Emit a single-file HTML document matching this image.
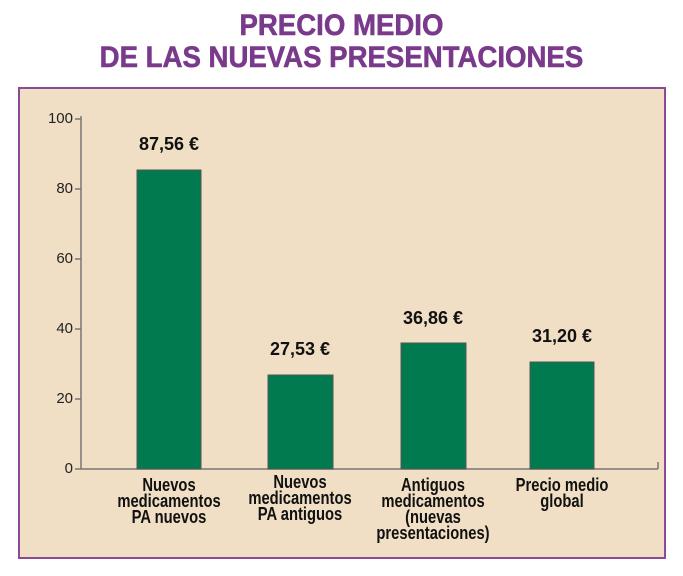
<!DOCTYPE html>
<html><head><meta charset="utf-8"><style>
body{margin:0;width:683px;height:576px;background:#fff;position:relative;font-family:"Liberation Sans",sans-serif;overflow:hidden}
.t{position:absolute;left:0;width:683px;text-align:center;color:#7a3a8c;font-weight:bold;font-size:30px;line-height:32px;transform:scaleX(0.92);transform-origin:341px 0;-webkit-text-stroke:0.6px #7a3a8c}
.panel{position:absolute;left:18px;top:87px;width:644px;height:468px;background:#f0dfc4;border:2px solid #8a4a96}
.ab{position:absolute}
.lab{position:absolute;width:160px;text-align:center;font-weight:bold;font-size:18px;line-height:16px;color:#111;transform:scaleX(0.82)}
.val{position:absolute;width:120px;text-align:center;font-weight:bold;font-size:18px;color:#111}
.tk{position:absolute;width:40px;text-align:right;font-size:15px;color:#222}
</style></head><body>
<div class="t" style="top:10px">PRECIO MEDIO<br>DE LAS NUEVAS PRESENTACIONES</div>
<div class="panel"></div>
<svg class="ab" style="left:0;top:0" width="683" height="576">
<g stroke="#777" stroke-width="1.5" fill="none">
<line x1="81" y1="116" x2="81" y2="469"/>
<line x1="81" y1="469" x2="658" y2="469"/>
<line x1="658" y1="469" x2="658" y2="462"/>
<line x1="75" y1="119" x2="81" y2="119"/>
<line x1="75" y1="189" x2="81" y2="189"/>
<line x1="75" y1="259" x2="81" y2="259"/>
<line x1="75" y1="329" x2="81" y2="329"/>
<line x1="75" y1="399" x2="81" y2="399"/>
<line x1="75" y1="469" x2="81" y2="469"/>
</g>
<g fill="#007a4e" stroke="#555" stroke-width="1">
<rect x="137" y="170" width="64" height="299"/>
<rect x="268" y="375" width="65" height="94"/>
<rect x="401" y="343" width="65" height="126"/>
<rect x="530" y="362" width="64" height="107"/>
</g>
</svg>
<div class="tk" style="left:33px;top:110px">100</div>
<div class="tk" style="left:33px;top:180px">80</div>
<div class="tk" style="left:33px;top:250px">60</div>
<div class="tk" style="left:33px;top:320px">40</div>
<div class="tk" style="left:33px;top:390px">20</div>
<div class="tk" style="left:33px;top:460px">0</div>
<div class="val" style="left:109px;top:134px">87,56 €</div>
<div class="val" style="left:240px;top:339px">27,53 €</div>
<div class="val" style="left:373px;top:308px">36,86 €</div>
<div class="val" style="left:502px;top:326px">31,20 €</div>
<div class="lab" style="left:89px;top:477px">Nuevos<br>medicamentos<br>PA nuevos</div>
<div class="lab" style="left:220px;top:474px">Nuevos<br>medicamentos<br>PA antiguos</div>
<div class="lab" style="left:353px;top:477px">Antiguos<br>medicamentos<br>(nuevas<br>presentaciones)</div>
<div class="lab" style="left:482px;top:477px">Precio medio<br>global</div>
</body></html>
